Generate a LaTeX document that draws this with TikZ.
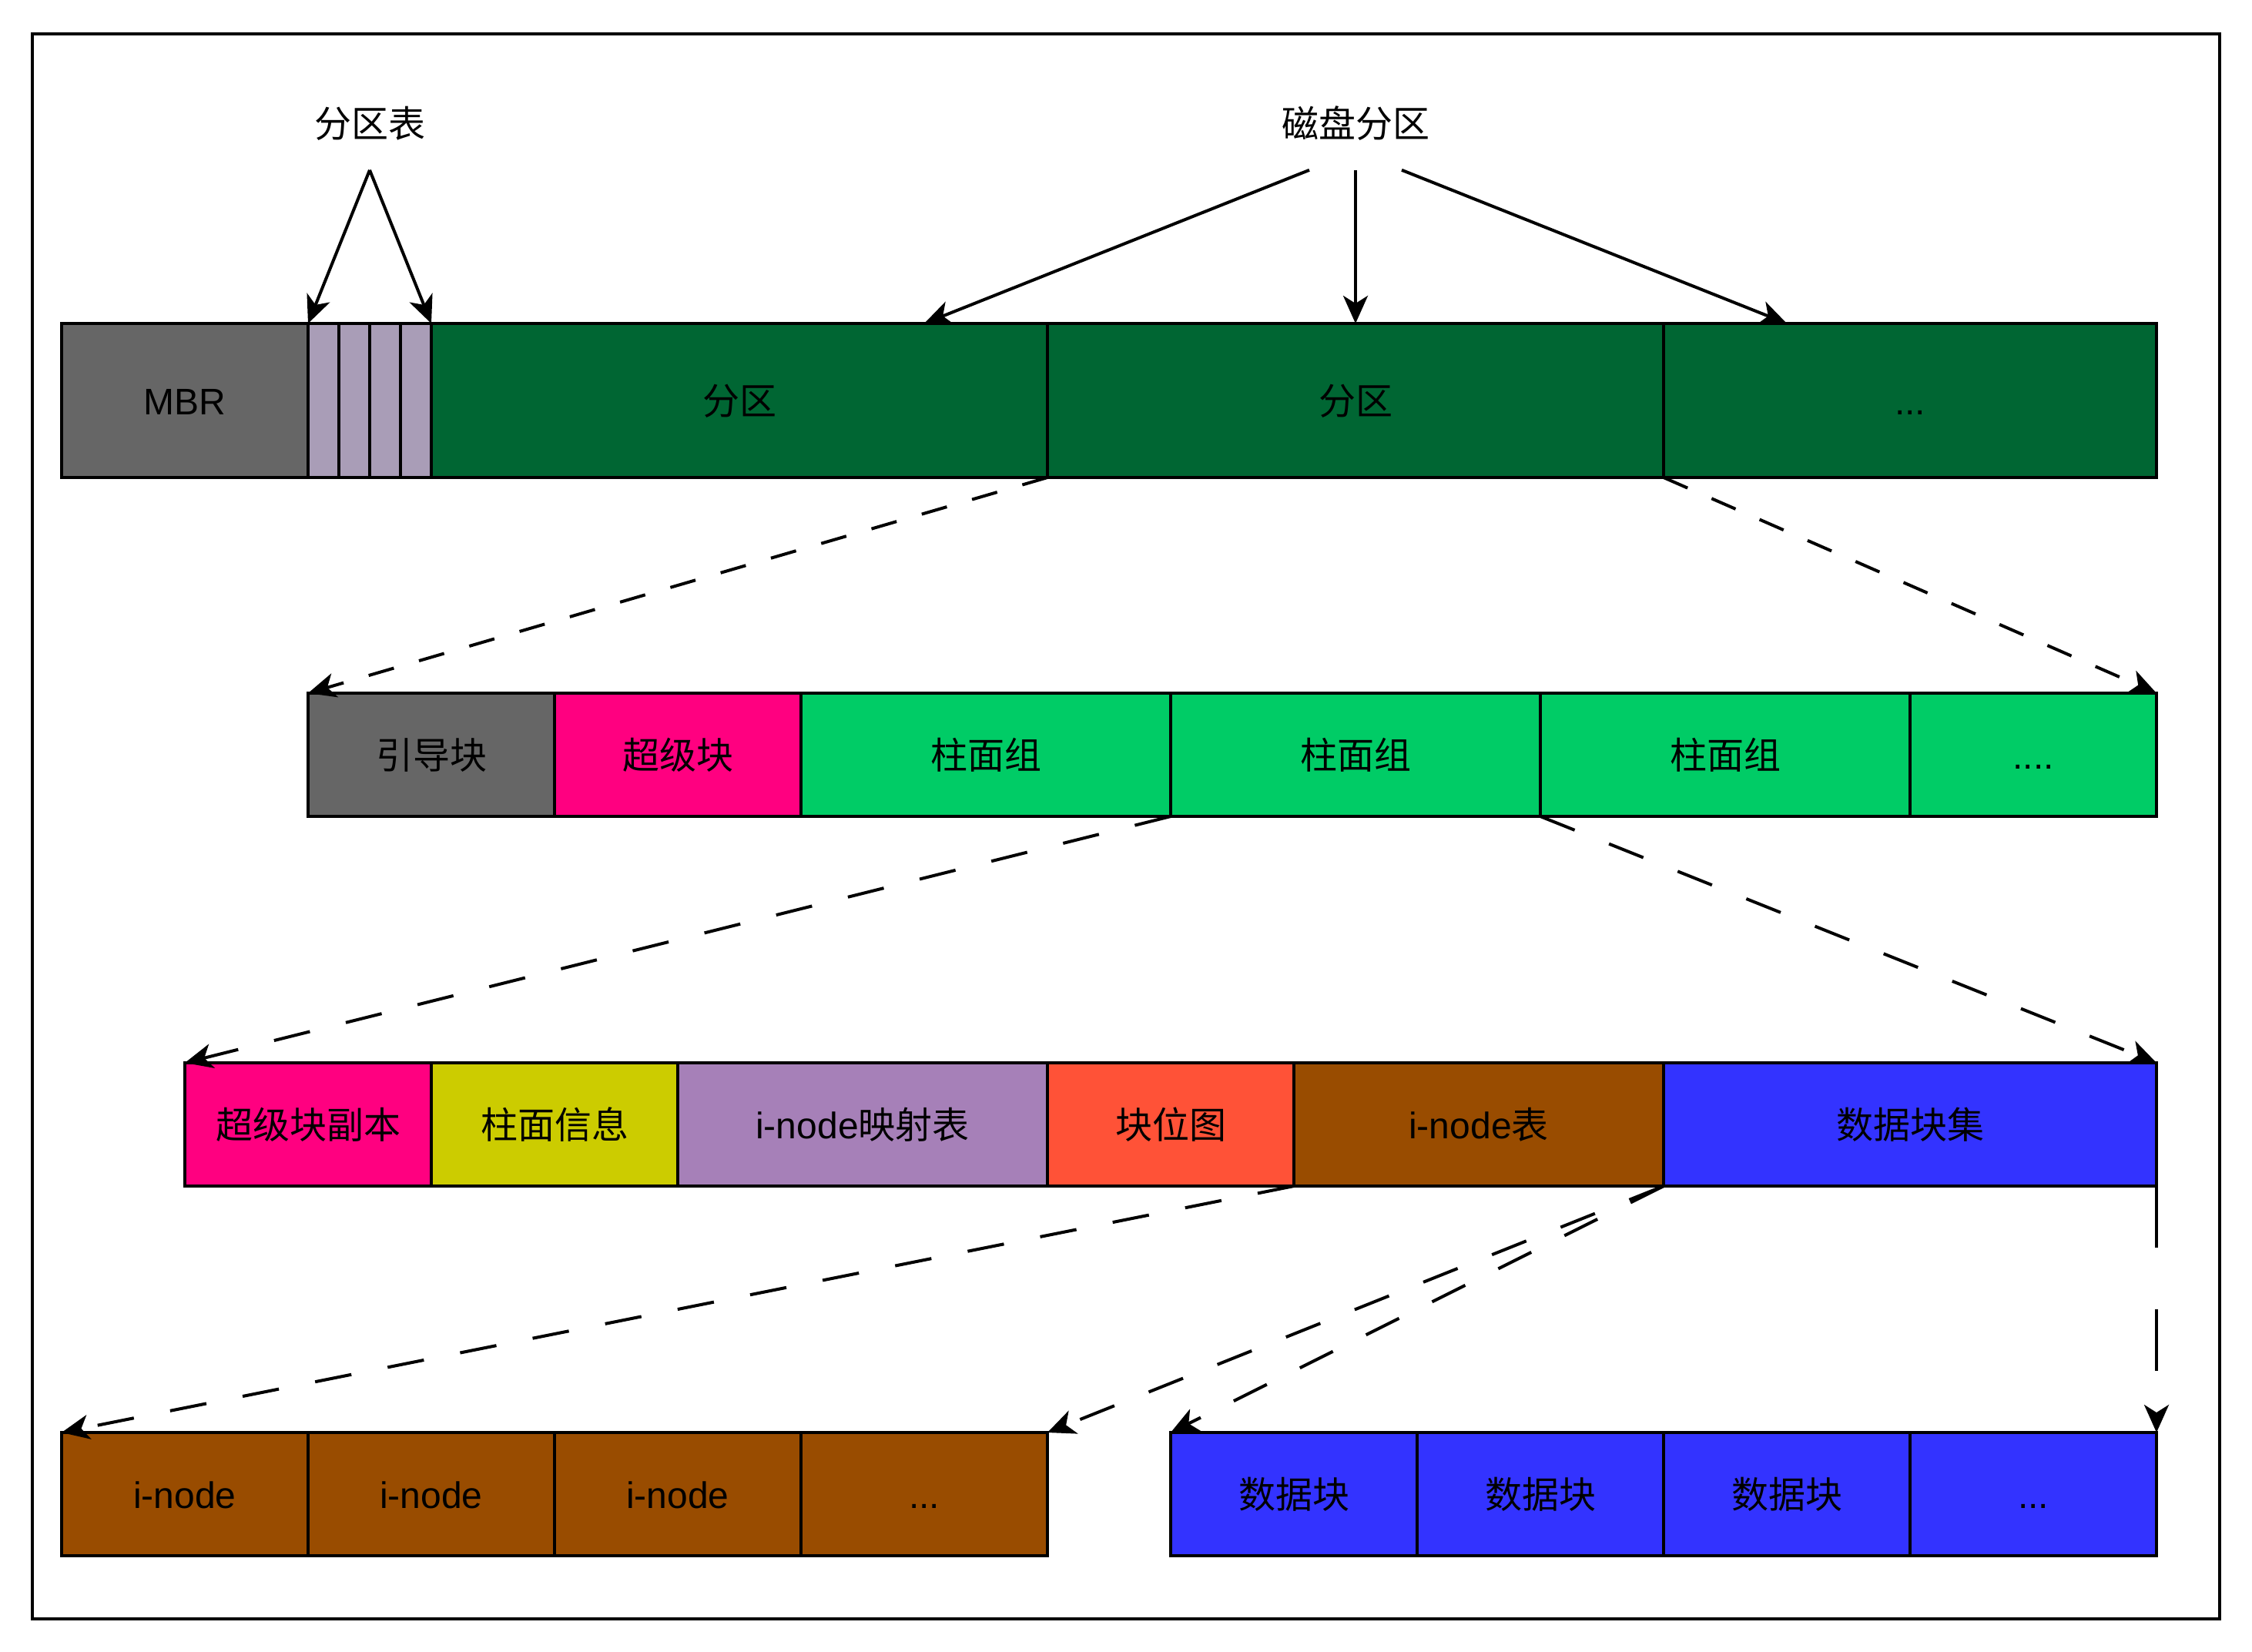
\documentclass[tikz,border=0pt]{standalone}
\usepackage{fontspec}
\setmainfont{Liberation Sans}
\newfontfamily\cjk{Noto Sans CJK SC}
\usetikzlibrary{calc, arrows.meta}
\definecolor{fsgray}{HTML}{666666}
\definecolor{fslilac}{HTML}{A99DB7}
\definecolor{fsdkgreen}{HTML}{006633}
\definecolor{fspink}{HTML}{FF0080}
\definecolor{fsgreen}{HTML}{00CC66}
\definecolor{fsyellow}{HTML}{CCCC00}
\definecolor{fspurple}{HTML}{A680B8}
\definecolor{fsred}{HTML}{FF5237}
\definecolor{fsbrown}{HTML}{994C00}
\definecolor{fsblue}{HTML}{3333FF}

\begin{document}
\begin{tikzpicture}[x=1pt, y=-1pt, font=\fontsize{12}{14}\selectfont,
    blk/.style={draw, line width=1pt, inner sep=0pt, outer sep=0pt,
        anchor=north west, minimum height=40, text height=10pt, text depth=1pt},
    lbl/.style={inner sep=0pt, minimum width=60, minimum height=30},
    arr/.style={line width=1pt, -{Stealth[length=9pt, width=8pt, inset=2.5pt]}},
    dasharr/.style={arr, dash pattern=on #1 off #1}]

\useasboundingbox (0,0) rectangle (731,536);

% === Marco ===
\draw[line width=1pt] (10.5,11) rectangle (720.5,525.5);

% === Fila 1: disco ===
\node[blk, fill=fsgray, minimum width=80, minimum height=50] (mbr) at (20,105) {MBR};
\foreach \i in {0,...,3} {
    \node[blk, fill=fslilac, minimum width=10, minimum height=50] (tbl\i) at (100+\i*10,105) {};
}
\node[blk, fill=fsdkgreen, minimum width=200, minimum height=50] (part1) at (140,105) {\cjk 分区};
\node[blk, fill=fsdkgreen, minimum width=200, minimum height=50] (part2) at (340,105) {\cjk 分区};
\node[blk, fill=fsdkgreen, minimum width=160, minimum height=50] (partx) at (540,105) {...};

% Etiquetas
\node[lbl] (ptlbl) at (120,40) {\cjk 分区表};
\node[lbl, minimum width=80] (disklbl) at (440,40) {\cjk 磁盘分区};
\coordinate (diskl) at ($(disklbl.south)+(-15,0)$);
\coordinate (diskr) at ($(disklbl.south)+(15,0)$);
\coordinate (part1tip) at ($(part1.north west)!0.8!(part1.north east)$);
\coordinate (partxtip) at ($(partx.north west)!0.25!(partx.north east)$);

\draw[arr] (ptlbl.south) -- (tbl0.north west);
\draw[arr] (ptlbl.south) -- (tbl3.north east);
\draw[arr] (diskl) -- (part1tip);
\draw[arr] (disklbl.south) -- (part2.north);
\draw[arr] (diskr) -- (partxtip);

% === Fila 2: particion ===
\node[blk, fill=fsgray, minimum width=80] (boot) at (100,225) {\cjk 引导块};
\node[blk, fill=fspink, minimum width=80] (super) at (180,225) {\cjk 超级块};
\foreach \i/\x in {1/260, 2/380, 3/500} {
    \node[blk, fill=fsgreen, minimum width=120] (cyl\i) at (\x,225) {\cjk 柱面组};
}
\node[blk, fill=fsgreen, minimum width=80] (cylx) at (620,225) {....};

\draw[dasharr=8.5pt] (part1.south east) -- (boot.north west);
\draw[dasharr=8.5pt] (part2.south east) -- (cylx.north east);

% === Fila 3: grupo de cilindros ===
\node[blk, fill=fspink, minimum width=80] (sbcopy) at (60,345) {\cjk 超级块副本};
\node[blk, fill=fsyellow, minimum width=80] (cylinfo) at (140,345) {\cjk 柱面信息};
\node[blk, fill=fspurple, minimum width=120] (imap) at (220,345) {i-node{\cjk 映射表}};
\node[blk, fill=fsred, minimum width=80] (bmap) at (340,345) {\cjk 块位图};
\node[blk, fill=fsbrown, minimum width=120] (itab) at (420,345) {i-node{\cjk 表}};
\node[blk, fill=fsblue, minimum width=160] (dset) at (540,345) {\cjk 数据块集};

\draw[dasharr=12pt] (cyl1.south east) -- (sbcopy.north west);
\draw[dasharr=12pt] (cyl2.south east) -- (dset.north east);

% === Fila 4: i-nodes y bloques de datos ===
\foreach \i/\x in {1/20, 2/100, 3/180} {
    \node[blk, fill=fsbrown, minimum width=80] (inode\i) at (\x,465) {i-node};
    \node[blk, fill=fsblue, minimum width=80] (dblk\i) at (\x+360,465) {\cjk 数据块};
}
\node[blk, fill=fsbrown, minimum width=80] (inodex) at (260,465) {...};
\node[blk, fill=fsblue, minimum width=80] (dblkx) at (620,465) {...};

\draw[dasharr=12pt] (bmap.south east) -- (inode1.north west);
\draw[dasharr=12pt] (itab.south east) -- (inodex.north east);
\draw[dasharr=12pt] (itab.south east) -- (dblk1.north west);
\draw[dasharr=20pt] (dset.south east) -- (dblkx.north east);

\end{tikzpicture}
\end{document}
